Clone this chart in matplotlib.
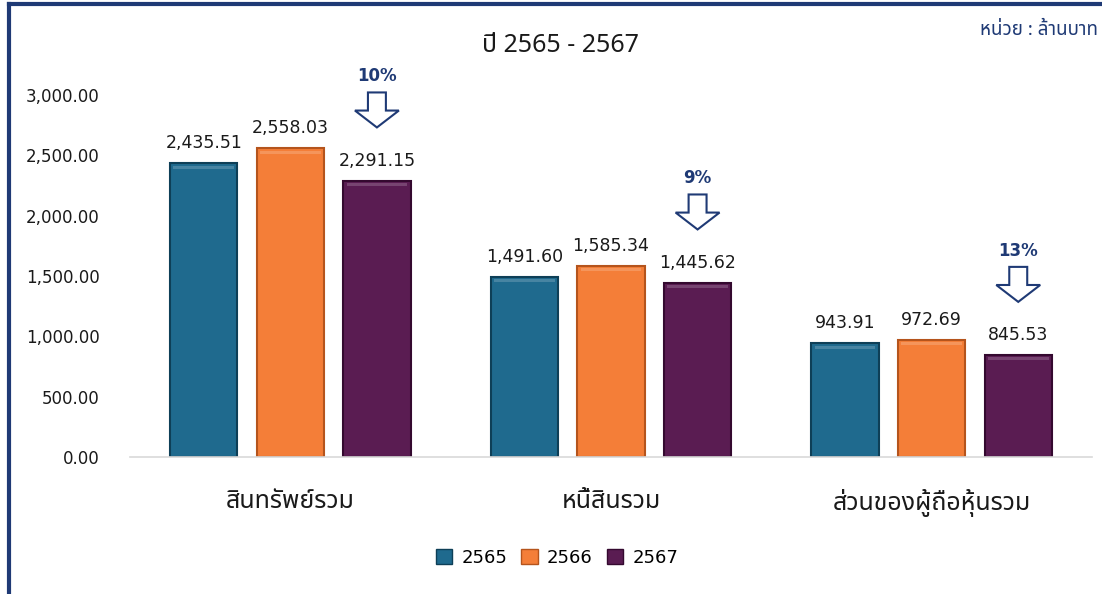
import numpy as np
import matplotlib
matplotlib.use("Agg")
import matplotlib.pyplot as plt
from matplotlib import font_manager
from matplotlib.patches import FancyArrow, Patch
from matplotlib.lines import Line2D
from fontTools.ttLib import TTFont

# หา font ที่มีอักษรไทย (เลือกแบบ sans ก่อน)
thai_fonts = []
for f in font_manager.fontManager.ttflist:
    try:
        cmap = TTFont(f.fname, fontNumber=0, lazy=True).getBestCmap()
        if cmap and 0x0E2A in cmap and 0x0E27 in cmap:
            thai_fonts.append(f.name)
    except Exception:
        pass
prefer = ['Noto Sans Thai', 'Noto Sans Thai UI', 'Loma', 'Garuda', 'Tlwg Typo', 'Umpush', 'Waree', 'Sarabun']
thai_font = None
for p in prefer:
    if p in thai_fonts:
        thai_font = p
        break
if thai_font is None and thai_fonts:
    sans = [n for n in thai_fonts if 'Sans' in n]
    thai_font = sans[0] if sans else thai_fonts[0]
fams = [thai_font, 'DejaVu Sans'] if thai_font else ['DejaVu Sans']

categories = ['สินทรัพย์รวม', 'หนี้สินรวม', 'ส่วนของผู้ถือหุ้นรวม']
years = ['2565', '2566', '2567']
v2565 = [2435.51, 1491.60, 943.91]
v2566 = [2558.03, 1585.34, 972.69]
v2567 = [2291.15, 1445.62, 845.53]
drop_pct = ['10%', '9%', '13%']
yticks = [0, 500, 1000, 1500, 2000, 2500, 3000]

colors = ['#1F6A8E', '#F47E38', '#5A1C52']
edges = ['#0E3F57', '#B5541C', '#34092F']
navy = '#1F3A75'

fig = plt.figure(figsize=(11.02, 5.94), dpi=100)
ax = fig.add_axes([130/1102, 137/594, 962/1102, 362/594])

x = np.arange(len(categories))
w = 0.21
offs = [-0.27, 0, 0.27]
for vals, c, ec, off in zip([v2565, v2566, v2567], colors, edges, offs):
    bars = ax.bar(x + off, vals, w, color=c, edgecolor=ec, linewidth=1.5, zorder=2)
    # แถบสว่างด้านบนให้ดูนูน
    ax.bar(x + off, [25] * len(vals), w * 0.9, bottom=[v - 45 for v in vals],
           color='white', alpha=0.18, linewidth=0, zorder=3)
    for b, v in zip(bars, vals):
        ax.text(b.get_x() + b.get_width() / 2, v + 90, f'{v:,.2f}', ha='center', va='bottom',
                fontsize=12.5, color='#1a1a1a', family='DejaVu Sans')

# ลูกศรแสดงการลดลง
for i, (v, p) in enumerate(zip(v2567, drop_pct)):
    xc = x[i] + offs[2]
    base = v + 440
    arr = FancyArrow(xc, base + 290, 0, -290, width=0.056, head_width=0.137,
                     head_length=140, length_includes_head=True,
                     facecolor='white', edgecolor=navy, linewidth=1.5, clip_on=False, zorder=4)
    ax.add_patch(arr)
    ax.text(xc, base + 350, p, ha='center', va='bottom', fontsize=12, fontweight='bold',
            color=navy, family='DejaVu Sans')

ax.set_xlim(-0.5, 2.5)
ax.set_ylim(0, 3000)
ax.set_yticks(yticks)
ax.set_yticklabels([f'{t:,.2f}' for t in yticks], fontsize=12, color='#1a1a1a')
ax.set_xticks(x)
ax.set_xticklabels(categories, fontsize=18, color='#1a1a1a', family=fams)
ax.tick_params(axis='y', length=0, pad=22)
ax.tick_params(axis='x', length=0, pad=23)
for s in ['top', 'right', 'left']:
    ax.spines[s].set_visible(False)
ax.spines['bottom'].set_color('#D9D9D9')
ax.spines['bottom'].set_linewidth(1.2)

fig.text(560/1102, 1 - 45/594, 'ปี 2565 - 2567', ha='center', va='center', fontsize=18,
         color='#1a1a1a', family=fams)
fig.text(1098/1102, 1 - 30/594, 'หน่วย : ล้านบาท', ha='right', va='center', fontsize=13.5,
         fontweight='bold', color=navy, family=fams)

handles = [Patch(facecolor=c, edgecolor=ec, label=y) for c, ec, y in zip(colors, edges, years)]
fig.legend(handles=handles, loc='center', bbox_to_anchor=(557/1102, 1 - 558/594), ncol=3,
           frameon=False, fontsize=13, handlelength=0.9, handleheight=0.9, columnspacing=0.8,
           handletextpad=0.5)

# กรอบสีน้ำเงินด้านบนและซ้าย
fig.add_artist(Line2D([9/1102, 9/1102], [0, 1 - 4/594], color=navy, linewidth=3, transform=fig.transFigure))
fig.add_artist(Line2D([9/1102, 1], [1 - 4/594, 1 - 4/594], color=navy, linewidth=3, transform=fig.transFigure))

fig.savefig('out.png', dpi=100)
